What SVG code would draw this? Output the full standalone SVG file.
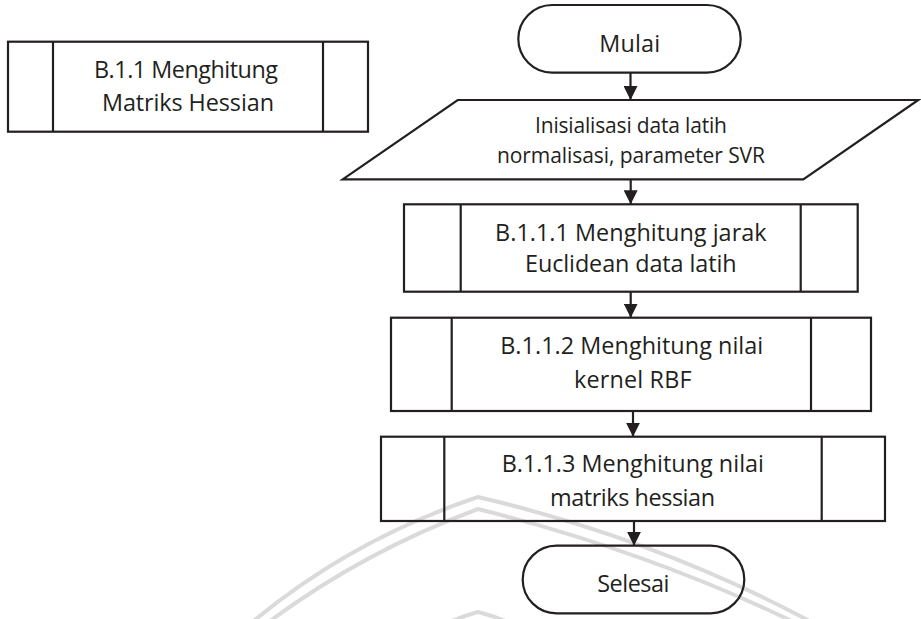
<svg xmlns="http://www.w3.org/2000/svg" width="921" height="619" viewBox="0 0 921 619">
<style>
.shape{fill:none;stroke:#231f20;stroke-width:2.2}
.t{font-family:"Open Sans","Noto Sans",sans-serif;font-size:23.4px;fill:#231f20;text-anchor:middle}
.ts{font-family:"Open Sans","Noto Sans",sans-serif;font-size:21px;fill:#231f20;text-anchor:middle}
.conn{stroke:#231f20;stroke-width:2.2;fill:none}
.wm{fill:none;stroke:#dadada;stroke-width:4}
</style>
<defs>
<marker id="arrow" markerUnits="userSpaceOnUse" markerWidth="14" markerHeight="14" refX="14" refY="7" orient="auto">
<path d="M0,0 L14,7 L0,14 z" fill="#231f20"/>
</marker>
</defs>
<rect width="921" height="619" fill="#ffffff"/>
<g id="watermark">
<path class="wm" d="M250 624 Q350 540 478 497 Q660 540 815 624"/>
<path class="wm" d="M266 624 Q362 552 478 509 Q650 552 798 624"/>
<path class="wm" d="M415 640 Q448 620 478 612 Q510 620 542 640"/>
</g>
<g id="node-b11">
<rect class="shape" x="8" y="41.7" width="360" height="90"/>
<line class="shape" x1="53" y1="41.7" x2="53" y2="131.7"/>
<line class="shape" x1="323" y1="41.7" x2="323" y2="131.7"/>
<text class="t" x="186" y="78.3" textLength="184">B.1.1 Menghitung</text>
<text class="t" x="188" y="111" textLength="172">Matriks Hessian</text>
</g>
<g id="node-mulai">
<rect class="shape" x="518.3" y="5" width="222.4" height="67.7" rx="33.85" ry="33.85"/>
<text class="t" x="629.7" y="51.8" textLength="61">Mulai</text>
</g>
<g id="node-input">
<polygon class="shape" points="457.7,100 918.3,100 803.3,179.3 342.7,179.3"/>
<text class="ts" x="631" y="133.3" textLength="192">Inisialisasi data latih</text>
<text class="ts" x="631" y="162.7" textLength="268">normalisasi, parameter SVR</text>
</g>
<g id="node-b1111">
<rect class="shape" x="404" y="204.3" width="453.7" height="87.4"/>
<line class="shape" x1="460.7" y1="204.3" x2="460.7" y2="291.7"/>
<line class="shape" x1="800.7" y1="204.3" x2="800.7" y2="291.7"/>
<text class="t" x="630.8" y="240.7" textLength="271.5">B.1.1.1 Menghitung jarak</text>
<text class="t" x="630.8" y="272" textLength="211.5">Euclidean data latih</text>
</g>
<g id="node-b1112">
<rect class="shape" x="391" y="317.7" width="480" height="93.3"/>
<line class="shape" x1="451.7" y1="317.7" x2="451.7" y2="411"/>
<line class="shape" x1="811" y1="317.7" x2="811" y2="411"/>
<text class="t" x="631.7" y="354" textLength="263">B.1.1.2 Menghitung nilai</text>
<text class="t" x="632.8" y="388" textLength="117.5">kernel RBF</text>
</g>
<g id="node-b1113">
<rect class="shape" x="381" y="436.7" width="504" height="84.3"/>
<line class="shape" x1="444.3" y1="436.7" x2="444.3" y2="521"/>
<line class="shape" x1="821.7" y1="436.7" x2="821.7" y2="521"/>
<text class="t" x="632.8" y="472.3" textLength="262.3">B.1.1.3 Menghitung nilai</text>
<text class="t" x="632.5" y="506" textLength="165">matriks hessian</text>
</g>
<g id="node-selesai">
<rect class="shape" x="522.7" y="545.7" width="221.6" height="67.6" rx="33.8" ry="33.8"/>
<text class="t" x="633.3" y="592.3" textLength="72">Selesai</text>
</g>
<g id="connectors">
<line class="conn" x1="630.5" y1="72.7" x2="630.5" y2="100" marker-end="url(#arrow)"/>
<line class="conn" x1="630.7" y1="179.3" x2="630.7" y2="204.3" marker-end="url(#arrow)"/>
<line class="conn" x1="630.7" y1="291.7" x2="630.7" y2="317.7" marker-end="url(#arrow)"/>
<line class="conn" x1="633" y1="411" x2="633" y2="436.7" marker-end="url(#arrow)"/>
<line class="conn" x1="634" y1="521" x2="634" y2="545.7" marker-end="url(#arrow)"/>
</g>
</svg>
